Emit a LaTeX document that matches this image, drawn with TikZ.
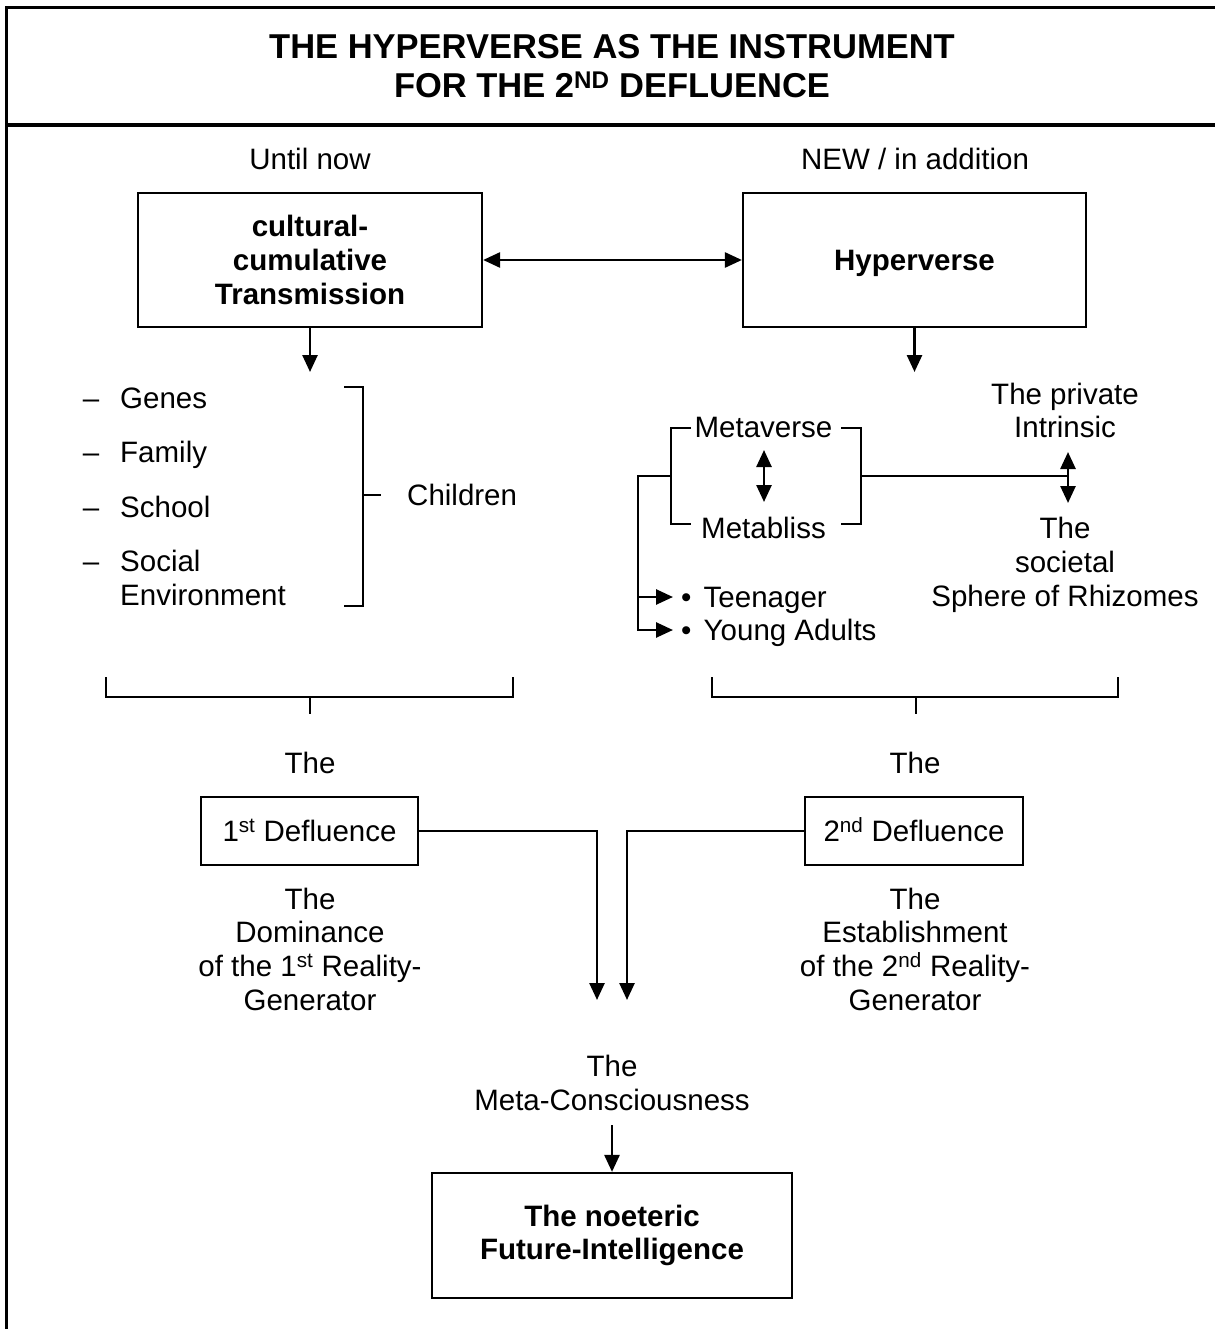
\documentclass[tikz,border=0pt]{standalone}
\usepackage{fontspec}
\setmainfont{Liberation Sans}
\usetikzlibrary{arrows.meta}
\begin{document}
\begin{tikzpicture}[x=1pt,y=-1pt,
  txt/.style={font=\fontsize{29.5}{33.7}\selectfont, inner sep=0pt, align=center},
  btxt/.style={font=\fontsize{29.5}{33.7}\selectfont\bfseries, inner sep=0pt, align=center},
  oneline/.style={text height=21pt, text depth=0pt},
  boxn/.style={draw, line width=2.2pt, inner sep=0pt, align=center},
  conn/.style={line width=2.6pt},
  arr/.style={conn, -{Triangle[length=17pt,width=15pt]}},
  darr/.style={conn, {Triangle[length=17pt,width=15pt]}-{Triangle[length=17pt,width=15pt]}},
  brk/.style={line width=1.8pt},
  frame/.style={line width=3.5pt}]
\useasboundingbox (0,0) rectangle (1215,1329);
% frame
\draw[frame] (6.5,1329) -- (6.5,7.5) -- (1215,7.5);
\draw[frame] (6.5,125) -- (1215,125);
% title
\node[btxt, font=\fontsize{34.5}{39}\selectfont\bfseries] (title) at (612,66)
  {THE HYPERVERSE AS THE INSTRUMENT\\FOR THE 2\textsuperscript{ND} DEFLUENCE};
\node[txt, oneline] (until) at (310,159) {Until now};
\node[txt, oneline] (new) at (915,159) {NEW / in addition};
% top boxes
\node[boxn, btxt, minimum width=344pt, minimum height=134pt] (cct) at (310,260)
  {cultural-\\cumulative\\Transmission};
\node[boxn, btxt, oneline, minimum width=343pt, minimum height=134pt] (hyp) at (914.5,260)
  {Hyperverse};
\draw[darr] (cct.east) -- (hyp.west);
\coordinate (c1) at (310,372);
\coordinate (c2) at (914.5,372);
\draw[arr] (cct.south) -- (c1);
\draw[arr] (hyp.south) -- (c2);
% left list
\node[txt, oneline] (d1) at (91,398) {–};
\node[txt, oneline] (d2) at (91,452) {–};
\node[txt, oneline] (d3) at (91,507) {–};
\node[txt, oneline] (d4) at (91,561) {–};
\node[txt, oneline, anchor=west] (genes) at (120,398) {Genes};
\node[txt, oneline, anchor=west] (family) at (120,452) {Family};
\node[txt, oneline, anchor=west] (school) at (120,507) {School};
\node[txt, anchor=west, align=left] (social) at (120,578) {Social\\Environment};
\draw[brk] (344,387) -- (363,387) -- (363,606) -- (344,606);
\node[txt, oneline, anchor=west] (children) at (407,495) {Children};
\coordinate (ct) at (363,495);
\draw[brk] (ct) -- ++(18,0);
% right side
\node[txt, oneline] (metav) at (763.5,427) {Metaverse};
\node[txt, oneline] (metab) at (763.5,528) {Metabliss};
\draw[brk] (691,428) -- (671,428) -- (671,524) -- (691,524);
\draw[brk] (841,428) -- (861,428) -- (861,524) -- (841,524);
\coordinate (ma1) at (764,450);
\coordinate (ma2) at (764,502);
\draw[darr] (ma1) -- (ma2);
\node[txt] (priv) at (1065,410.5) {The private\\Intrinsic};
\node[txt] (soc) at (1065,565) {The\\societal\\Sphere of Rhizomes};
\coordinate (rb) at (861,476);
\coordinate (pa1) at (1068,452);
\coordinate (pa2) at (1068,503);
\draw[brk] (rb) -- (pa1 |- rb);
\draw[darr] (pa1) -- (pa2);
\node[txt, oneline, anchor=west] (teen) at (681,597) {•\kern4pt\ Teenager};
\node[txt, oneline, anchor=west] (young) at (681,630) {•\kern4pt\ Young Adults};
\coordinate (lb) at (671,476);
\draw[arr] (lb) -- (638,476) -- (638,630) -- ([xshift=-8pt]young.west);
\draw[arr] (638,597) -- ([xshift=-8pt]teen.west);
% bottom brackets
\draw[brk] (106,677) -- (106,697) -- (513,697) -- (513,677);
\draw[brk] (310,697) -- (310,714);
\draw[brk] (712,677) -- (712,697) -- (1118,697) -- (1118,677);
\draw[brk] (916,697) -- (916,714);
\node[txt, oneline] (the1) at (310,763) {The};
\node[txt, oneline] (the2) at (915,763) {The};
% defluence boxes
\node[boxn, txt, oneline, minimum width=217pt, minimum height=68pt] (def1) at (309.5,831)
  {1\textsuperscript{st} Defluence};
\node[boxn, txt, oneline, minimum width=218pt, minimum height=68pt] (def2) at (914,831)
  {2\textsuperscript{nd} Defluence};
\coordinate (m1) at (597,1000);
\coordinate (m2) at (627,1000);
\draw[arr] (def1.east) -| (m1);
\draw[arr] (def2.west) -| (m2);
\node[txt] (dom) at (310,949) {The\\Dominance\\of the 1\textsuperscript{st} Reality-\\Generator};
\node[txt] (est) at (915,949) {The\\Establishment\\of the 2\textsuperscript{nd} Reality-\\Generator};
% meta-consciousness
\node[txt] (meta) at (612,1083) {The\\Meta-Consciousness};
\node[boxn, btxt, minimum width=360pt, minimum height=125pt] (fin) at (612,1235.5)
  {The noeteric\\Future-Intelligence};
\coordinate (ms) at (612,1125);
\draw[arr] (ms) -- (fin.north);
\end{tikzpicture}
\end{document}
